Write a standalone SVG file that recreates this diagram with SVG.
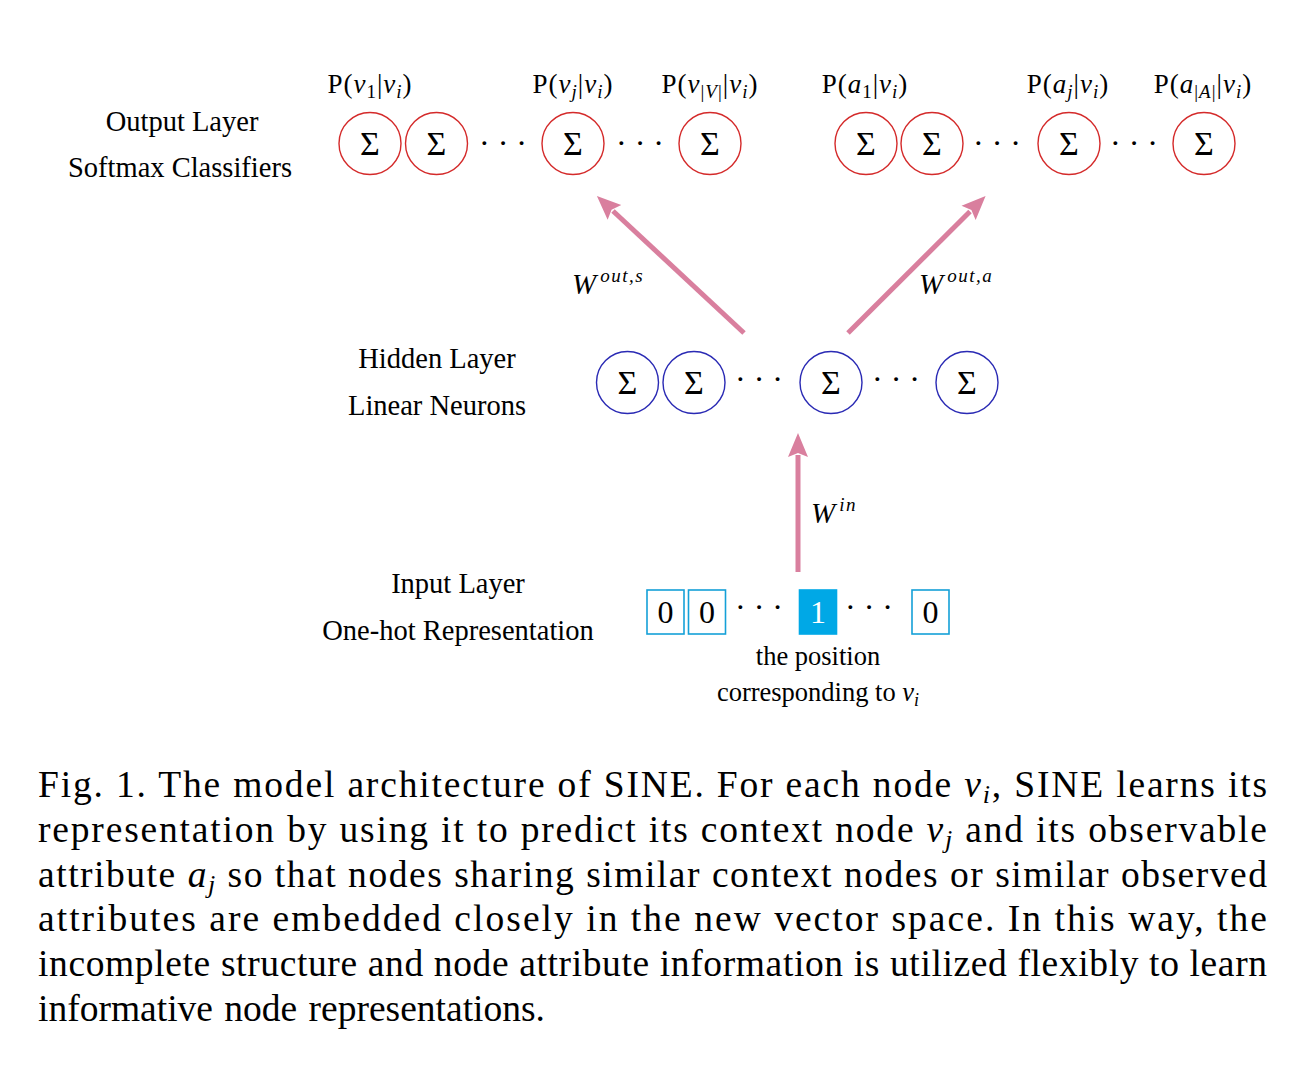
<svg xmlns="http://www.w3.org/2000/svg" width="1305" height="1067" viewBox="0 0 1305 1067">
<style>
text{font-family:"Liberation Serif","Times New Roman",serif;fill:#000}
.lab{font-size:28.5px;text-anchor:middle}
.eq{font-size:27px;text-anchor:middle;letter-spacing:1px}
.it{font-style:italic}
.sg{font-size:34px;text-anchor:middle}
.dg{font-size:32px;text-anchor:middle}
.dots{font-size:32px;text-anchor:middle}
.out{fill:none;stroke:#d42a2a;stroke-width:1.4}
.hid{fill:none;stroke:#2a2ab4;stroke-width:1.4}
.box{fill:none;stroke:#14a0d8;stroke-width:1.6}
.boxon{fill:#00a8e6;stroke:#00a8e6;stroke-width:1.6}
.arr{stroke:#d97f9e;stroke-width:5;fill:none}
.cap{font-size:37.5px}
.small{font-size:26.5px;text-anchor:middle}
.w{font-size:29px}
.sup{font-size:19px;font-style:italic;letter-spacing:1.5px}
</style>
<defs>
<marker id="ah" markerUnits="userSpaceOnUse" markerWidth="30" markerHeight="30" refX="2" refY="12" orient="auto" viewBox="0 0 30 24">
<path d="M0,2 L24,12 L0,22 L4,12 z" fill="#d97f9e"/>
</marker>
</defs>

<g id="labels-left">
<text class="lab" x="182" y="131">Output Layer</text>
<text class="lab" x="180" y="177">Softmax Classifiers</text>
<text class="lab" x="437" y="368">Hidden Layer</text>
<text class="lab" x="437" y="415">Linear Neurons</text>
<text class="lab" x="458" y="593">Input Layer</text>
<text class="lab" x="458" y="640">One-hot Representation</text>
</g>

<g id="output-labels">
<text class="eq" x="370" y="93">P(<tspan class="it">v</tspan><tspan font-size="19" dy="5">1</tspan><tspan dy="-5">|</tspan><tspan class="it">v</tspan><tspan class="it" font-size="19" dy="5">i</tspan><tspan dy="-5">)</tspan></text>
<text class="eq" x="573" y="93">P(<tspan class="it">v</tspan><tspan class="it" font-size="19" dy="5">j</tspan><tspan dy="-5">|</tspan><tspan class="it">v</tspan><tspan class="it" font-size="19" dy="5">i</tspan><tspan dy="-5">)</tspan></text>
<text class="eq" x="710" y="93">P(<tspan class="it">v</tspan><tspan font-size="19" dy="5">|<tspan class="it">V</tspan>|</tspan><tspan dy="-5">|</tspan><tspan class="it">v</tspan><tspan class="it" font-size="19" dy="5">i</tspan><tspan dy="-5">)</tspan></text>
<text class="eq" x="865" y="93">P(<tspan class="it">a</tspan><tspan font-size="19" dy="5">1</tspan><tspan dy="-5">|</tspan><tspan class="it">v</tspan><tspan class="it" font-size="19" dy="5">i</tspan><tspan dy="-5">)</tspan></text>
<text class="eq" x="1068" y="93">P(<tspan class="it">a</tspan><tspan class="it" font-size="19" dy="5">j</tspan><tspan dy="-5">|</tspan><tspan class="it">v</tspan><tspan class="it" font-size="19" dy="5">i</tspan><tspan dy="-5">)</tspan></text>
<text class="eq" x="1203" y="93">P(<tspan class="it">a</tspan><tspan font-size="19" dy="5">|<tspan class="it">A</tspan>|</tspan><tspan dy="-5">|</tspan><tspan class="it">v</tspan><tspan class="it" font-size="19" dy="5">i</tspan><tspan dy="-5">)</tspan></text>
</g>

<g id="output-layer">
<g id="out1"><circle class="out" cx="370" cy="143.5" r="31"/><text class="sg" x="370" y="155">Σ</text></g>
<g id="out2"><circle class="out" cx="436.5" cy="143.5" r="31"/><text class="sg" x="436.5" y="155">Σ</text></g>
<text class="dots" x="503" y="154">· · ·</text>
<g id="out3"><circle class="out" cx="573" cy="143.5" r="31"/><text class="sg" x="573" y="155">Σ</text></g>
<text class="dots" x="640" y="154">· · ·</text>
<g id="out4"><circle class="out" cx="710" cy="143.5" r="31"/><text class="sg" x="710" y="155">Σ</text></g>
<g id="out5"><circle class="out" cx="866" cy="143.5" r="31"/><text class="sg" x="866" y="155">Σ</text></g>
<g id="out6"><circle class="out" cx="932" cy="143.5" r="31"/><text class="sg" x="932" y="155">Σ</text></g>
<text class="dots" x="997" y="154">· · ·</text>
<g id="out7"><circle class="out" cx="1069" cy="143.5" r="31"/><text class="sg" x="1069" y="155">Σ</text></g>
<text class="dots" x="1134" y="154">· · ·</text>
<g id="out8"><circle class="out" cx="1204" cy="143.5" r="31"/><text class="sg" x="1204" y="155">Σ</text></g>
</g>

<g id="hidden-layer">
<g id="hid1"><circle class="hid" cx="627.5" cy="382.5" r="31"/><text class="sg" x="627.5" y="394">Σ</text></g>
<g id="hid2"><circle class="hid" cx="694" cy="382.5" r="31"/><text class="sg" x="694" y="394">Σ</text></g>
<text class="dots" x="759" y="390">· · ·</text>
<g id="hid3"><circle class="hid" cx="831" cy="382.5" r="31"/><text class="sg" x="831" y="394">Σ</text></g>
<text class="dots" x="896" y="390">· · ·</text>
<g id="hid4"><circle class="hid" cx="967" cy="382.5" r="31"/><text class="sg" x="967" y="394">Σ</text></g>
</g>

<g id="input-layer">
<g id="in1"><rect class="box" x="647" y="590" width="37" height="44"/><text class="dg" x="665.5" y="623">0</text></g>
<g id="in2"><rect class="box" x="688.5" y="590" width="37" height="44"/><text class="dg" x="707" y="623">0</text></g>
<text class="dots" x="759" y="618">· · ·</text>
<g id="in3"><rect class="boxon" x="799.5" y="590" width="37" height="44"/><text class="dg" x="818" y="623" style="fill:#fff">1</text></g>
<text class="dots" x="869" y="618">· · ·</text>
<g id="in4"><rect class="box" x="912" y="590" width="37" height="44"/><text class="dg" x="930.5" y="623">0</text></g>
<text class="small" x="818" y="665">the position</text>
<text class="small" x="818" y="701">corresponding to <tspan class="it">v</tspan><tspan class="it" font-size="18" dy="5">i</tspan></text>
</g>

<g id="connectors">
<line class="arr" x1="744" y1="333" x2="613" y2="211" marker-end="url(#ah)"/>
<line class="arr" x1="848" y1="333" x2="970" y2="211.5" marker-end="url(#ah)"/>
<line class="arr" x1="798" y1="572" x2="798" y2="455" marker-end="url(#ah)"/>
<text class="w" x="572" y="294"><tspan class="it">W</tspan><tspan class="sup" dx="4" dy="-12">out,s</tspan></text>
<text class="w" x="919" y="294"><tspan class="it">W</tspan><tspan class="sup" dx="4" dy="-12">out,a</tspan></text>
<text class="w" x="811" y="523"><tspan class="it">W</tspan><tspan class="sup" dx="4" dy="-12">in</tspan></text>
</g>

<g id="caption">
<text class="cap" x="38" y="797" textLength="1229" lengthAdjust="spacing">Fig. 1.  The model architecture of SINE. For each node <tspan class="it">v</tspan><tspan class="it" font-size="26" dy="6">i</tspan><tspan dy="-6">, SINE learns its</tspan></text>
<text class="cap" x="38" y="842" textLength="1229" lengthAdjust="spacing">representation by using it to predict its context node <tspan class="it">v</tspan><tspan class="it" font-size="26" dy="6">j</tspan><tspan dy="-6"> and its observable</tspan></text>
<text class="cap" x="38" y="887" textLength="1229" lengthAdjust="spacing">attribute <tspan class="it">a</tspan><tspan class="it" font-size="26" dy="6">j</tspan><tspan dy="-6"> so that nodes sharing similar context nodes or similar observed</tspan></text>
<text class="cap" x="38" y="931" textLength="1229" lengthAdjust="spacing">attributes are embedded closely in the new vector space. In this way, the</text>
<text class="cap" x="38" y="976" textLength="1229" lengthAdjust="spacing">incomplete structure and node attribute information is utilized flexibly to learn</text>
<text class="cap" x="38" y="1021" word-spacing="2">informative node representations.</text>
</g>
</svg>
